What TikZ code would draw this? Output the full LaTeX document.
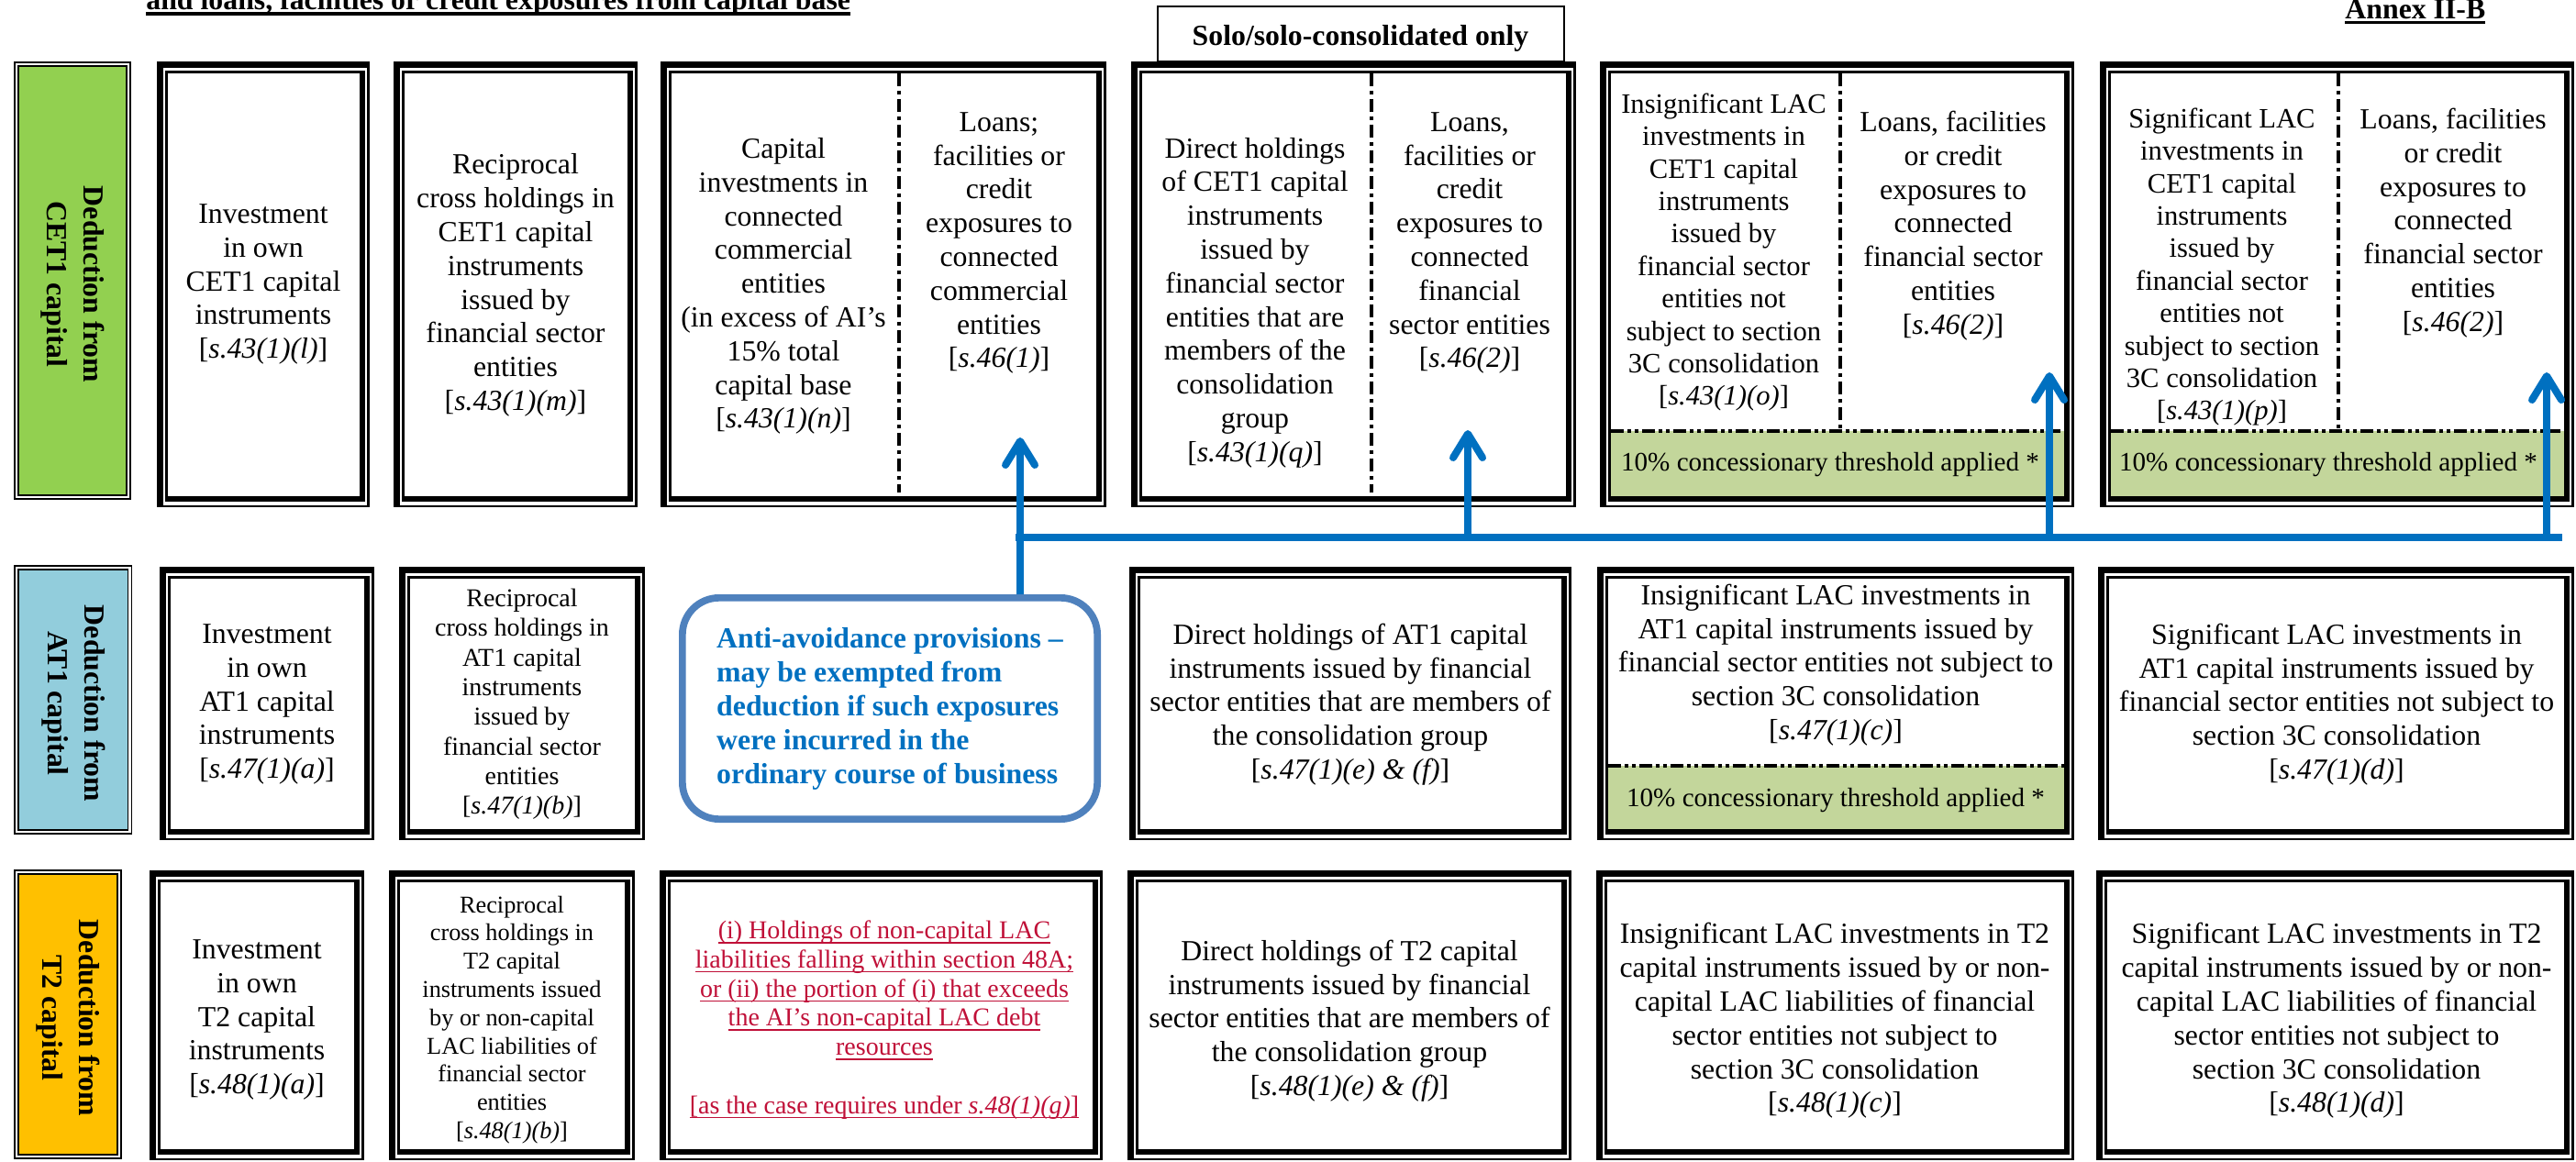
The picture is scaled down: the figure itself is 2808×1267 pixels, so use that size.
\documentclass[tikz,border=0pt]{standalone}
\usepackage{fontspec}
\setmainfont{Liberation Serif}
\usetikzlibrary{fit,arrows.meta}
\definecolor{lgreen}{HTML}{92D050}
\definecolor{lblue}{HTML}{92CDDC}
\definecolor{lorange}{HTML}{FFC000}
\definecolor{bandgreen}{HTML}{C3D69B}
\definecolor{arrowblue}{HTML}{0070C0}
\definecolor{antiborder}{HTML}{4F81BD}
\definecolor{lacred}{RGB}{192,16,56}
\newsavebox\ulbox
\newcommand\bul[1]{\sbox\ulbox{#1}\rlap{\rule[-3pt]{\wd\ulbox}{1.7pt}}\usebox\ulbox}
\newcommand\aul[1]{\sbox\ulbox{#1}\rlap{\rule[-2.6pt]{\wd\ulbox}{1.4pt}}\usebox\ulbox}
\newcommand\rul[1]{\sbox\ulbox{#1}\rlap{\rule[-2.6pt]{\wd\ulbox}{0.8pt}}\usebox\ulbox}
\tikzset{
  dbl/.style={fill=white, inner sep=0pt, outer sep=0pt, path picture={
    \fill[black] (path picture bounding box.north west) rectangle (path picture bounding box.south east);
    \fill[white] ([shift={(3.35pt,-3.35pt)}]path picture bounding box.north west) rectangle ([shift={(-1.3pt,1.05pt)}]path picture bounding box.south east);
    \fill[black] ([shift={(4.5pt,-5pt)}]path picture bounding box.north west) rectangle ([shift={(-2.5pt,3pt)}]path picture bounding box.south east);
    \fill[white] ([shift={(5.85pt,-6.35pt)}]path picture bounding box.north west) rectangle ([shift={(-5.5pt,6pt)}]path picture bounding box.south east);
  }},
  lblbox/.style={inner sep=0pt, outer sep=0pt, draw=black, line width=0.8pt, double=white, double distance=1.2pt},
  txt/.style={align=center, inner sep=0pt, font=\fontsize{15.9pt}{18.4pt}\selectfont},
  txtb/.style={txt, font=\fontsize{15.3pt}{17.7pt}\selectfont},
  txtm/.style={txt, font=\fontsize{14pt}{16.15pt}\selectfont},
  txts/.style={txt, font=\fontsize{13.15pt}{15.4pt}\selectfont},
  redtxt/.style={txt, text=lacred, font=\fontsize{14pt}{15.9pt}\selectfont},
  bandtxt/.style={inner sep=0pt, font=\fontsize{14.55pt}{16pt}\selectfont},
  lbl/.style={rotate=-90, align=center, inner sep=0pt, font=\bfseries\fontsize{15.9pt}{20pt}\selectfont},
  hdr/.style={inner sep=0pt, font=\bfseries\fontsize{15.9pt}{18pt}\selectfont},
  split/.style={line width=2pt, dash pattern=on 7pt off 2.5pt on 2pt off 2.5pt},
  hsplit/.style={line width=2pt, dash pattern=on 7pt off 2pt on 2pt off 2pt on 2pt off 2pt},
  bl/.style={line width=4pt, draw=arrowblue},
  tipped/.style={bl, -{Straight Barb[length=13pt,width=16pt,round]}},
  antibox/.style={draw=antiborder, line width=3.85pt, rounded corners=20pt, fill=white,
     minimum width=226.15pt, minimum height=120.65pt, inner sep=0pt, align=left,
     text=arrowblue, font=\bfseries\fontsize{15.9pt}{18.5pt}\selectfont},
}
\begin{document}
\begin{tikzpicture}[x=0.5pt,y=-0.5pt]
\useasboundingbox (0,0) rectangle (2808,1267);

% headings
\node[hdr, anchor=base west] (title) at (159,10.7) {\bul{and loans, facilities or credit exposures from capital base}};
\node[draw=black, line width=0.75pt, inner sep=0pt, minimum width=221.5pt, minimum height=30pt] (solo) at (1483.5,37) {};
\node[hdr, anchor=base] (solot) at (1483,50) {Solo/solo-consolidated only};
\node[hdr, anchor=base west] (annex) at (2556,21) {\aul{Annex II-B}};

% labels
\node[lblbox, fill=lgreen, fit={(18,70) (140,542)}] (L1) {};
\node[lbl] (L1t) at (79,310) {Deduction from\\CET1 capital};
\node[lblbox, fill=lblue, fit={(18,619) (141.5,907)}] (L2) {};
\node[lbl] (L2t) at (80,767) {Deduction from\\AT1 capital};
\node[lblbox, fill=lorange, fit={(18,951) (130,1261)}] (L3) {};
\node[lbl] (L3t) at (74,1110) {Deduction from\\T2 capital};

% row 1 boxes
\node[dbl, fit={(171,67) (403,553)}] (r1c1) {};
\node[dbl, fit={(429,67) (695,553)}] (r1c2) {};
\node[dbl, fit={(720,67) (1206,553)}] (r1c3) {};
\node[dbl, fit={(1233,67) (1718,553)}] (r1c4) {};
\node[dbl, fit={(1744,67) (2261,553)}] (r1c5) {};
\node[dbl, fit={(2289,67) (2806,553)}] (r1c6) {};
% row 2 boxes
\node[dbl, fit={(174,618) (408,916)}] (r2c1) {};
\node[dbl, fit={(435,618) (703,916)}] (r2c2) {};
\node[dbl, fit={(1231,618) (1713,916)}] (r2c4) {};
\node[dbl, fit={(1741,618) (2261,916)}] (r2c5) {};
\node[dbl, fit={(2287,618) (2806,916)}] (r2c6) {};
% row 3 boxes
\node[dbl, fit={(163,949) (397,1265)}] (r3c1) {};
\node[dbl, fit={(424,949) (692,1265)}] (r3c2) {};
\node[dbl, fit={(719,949) (1202,1265)}] (r3c3) {};
\node[dbl, fit={(1229,949) (1713,1265)}] (r3c4) {};
\node[dbl, fit={(1740,949) (2261,1265)}] (r3c5) {};
\node[dbl, fit={(2285,949) (2806,1265)}] (r3c6) {};

% threshold bands
\fill[bandgreen] (1755.7,470) rectangle (2250,541);
\fill[bandgreen] (2300.7,470) rectangle (2795,541);
\fill[bandgreen] (1752.7,835) rectangle (2250,904);
\draw[hsplit] (1755.7,470) -- (2250,470);
\draw[hsplit] (2300.7,470) -- (2795,470);
\draw[hsplit] (1752.7,835) -- (2250,835);

% column splits
\draw[split] (980,80) -- (980,537);
\draw[split] (1495,80) -- (1495,537);
\draw[split] (2006,80) -- (2006,470);
\draw[split] (2549,80) -- (2549,470);

% row 1 texts
\node[txt] (r1c1t) at (287,310) {Investment\\in own\\CET1 capital\\instruments\\{}[\textit{s.43(1)(l)}]};
\node[txt] (r1c2t) at (562,311) {Reciprocal\\cross holdings in\\CET1 capital\\instruments\\issued by\\financial sector\\entities\\{}[\textit{s.43(1)(m)}]};
\node[txt] (r1c3a) at (854,312) {Capital\\investments in\\connected\\commercial\\entities\\(in excess of AI’s\\15\% total\\capital base\\{}[\textit{s.43(1)(n)}]};
\node[txt] (r1c3b) at (1089,265) {Loans;\\facilities or\\credit\\exposures to\\connected\\commercial\\entities\\{}[\textit{s.46(1)}]};
\node[txt] (r1c4a) at (1368,330) {Direct holdings\\of CET1 capital\\instruments\\issued by\\financial sector\\entities that are\\members of the\\consolidation\\group\\{}[\textit{s.43(1)(q)}]};
\node[txt] (r1c4b) at (1602,265) {Loans,\\facilities or\\credit\\exposures to\\connected\\financial\\sector entities\\{}[\textit{s.46(2)}]};
\node[txtb] (r1c5a) at (1879,275) {Insignificant LAC\\investments in\\CET1 capital\\instruments\\issued by\\financial sector\\entities not\\subject to section\\3C consolidation\\{}[\textit{s.43(1)(o)}]};
\node[txt] (r1c5b) at (2129,246) {Loans, facilities\\or credit\\exposures to\\connected\\financial sector\\entities\\{}[\textit{s.46(2)}]};
\node[bandtxt] (r1c5c) at (1995,507) {10\% concessionary threshold applied *};
\node[txtb] (r1c6a) at (2422,291) {Significant LAC\\investments in\\CET1 capital\\instruments\\issued by\\financial sector\\entities not\\subject to section\\3C consolidation\\{}[\textit{s.43(1)(p)}]};
\node[txt] (r1c6b) at (2674,243) {Loans, facilities\\or credit\\exposures to\\connected\\financial sector\\entities\\{}[\textit{s.46(2)}]};
\node[bandtxt] (r1c6c) at (2538,507) {10\% concessionary threshold applied *};

% row 2 texts
\node[txt] (r2c1t) at (291,768) {Investment\\in own\\AT1 capital\\instruments\\{}[\textit{s.47(1)(a)}]};
\node[txtm] (r2c2t) at (569,768) {Reciprocal\\cross holdings in\\AT1 capital\\instruments\\issued by\\financial sector\\entities\\{}[\textit{s.47(1)(b)}]};
\node[antibox] (anti) at (970,772.5) {Anti-avoidance provisions –\\may be exempted from\\deduction if such exposures\\were incurred in the\\ordinary course of business};
\node[txt] (r2c4t) at (1472,768) {Direct holdings of AT1 capital\\instruments issued by financial\\sector entities that are members of\\the consolidation group\\{}[\textit{s.47(1)(e) \& (f)}]};
\node[txt] (r2c5t) at (2001,725) {Insignificant LAC investments in\\AT1 capital instruments issued by\\financial sector entities not subject to\\section 3C consolidation\\{}[\textit{s.47(1)(c)}]};
\node[bandtxt] (r2c5c) at (2001,873) {10\% concessionary threshold applied *};
\node[txt] (r2c6t) at (2547,768) {Significant LAC investments in\\AT1 capital instruments issued by\\financial sector entities not subject to\\section 3C consolidation\\{}[\textit{s.47(1)(d)}]};

% row 3 texts
\node[txt] (r3c1t) at (280,1112) {Investment\\in own\\T2 capital\\instruments\\{}[\textit{s.48(1)(a)}]};
\node[txts] (r3c2t) at (558,1112) {Reciprocal\\cross holdings in\\T2 capital\\instruments issued\\by or non-capital\\LAC liabilities of\\financial sector\\entities\\{}[\textit{s.48(1)(b)}]};
\node[redtxt] (r3c3t) at (964,1112) {\rul{(i) Holdings of non-capital LAC}\\\rul{liabilities falling within section 48A;}\\\rul{or (ii) the portion of (i) that exceeds}\\\rul{the AI’s non-capital LAC debt}\\\rul{resources}\\\mbox{}\\\rul{[as the case requires under \textit{s.48(1)(g)}]}};
\node[txt] (r3c4t) at (1471,1113) {Direct holdings of T2 capital\\instruments issued by financial\\sector entities that are members of\\the consolidation group\\{}[\textit{s.48(1)(e) \& (f)}]};
\node[txt] (r3c5t) at (2000,1113) {Insignificant LAC investments in T2\\capital instruments issued by or non-\\capital LAC liabilities of financial\\sector entities not subject to\\section 3C consolidation\\{}[\textit{s.48(1)(c)}]};
\node[txt] (r3c6t) at (2547,1113) {Significant LAC investments in T2\\capital instruments issued by or non-\\capital LAC liabilities of financial\\sector entities not subject to\\section 3C consolidation\\{}[\textit{s.48(1)(d)}]};

% blue connectors
\coordinate (h0) at (1107,586);
\coordinate (h1) at (2793,586);
\coordinate (t1) at (1112,477);
\coordinate (t2) at (1600,469);
\coordinate (t3) at (2234,406);
\coordinate (t4) at (2776,406);
\coordinate (b2) at (1600,586);
\coordinate (b3) at (2234,586);
\coordinate (b4) at (2776,586);
\draw[bl] (h0) -- (h1);
\draw[tipped] (anti.north -| t1) -- (t1);
\draw[tipped] (b2) -- (t2);
\draw[tipped] (b3) -- (t3);
\draw[tipped] (b4) -- (t4);
\end{tikzpicture}
\end{document}
